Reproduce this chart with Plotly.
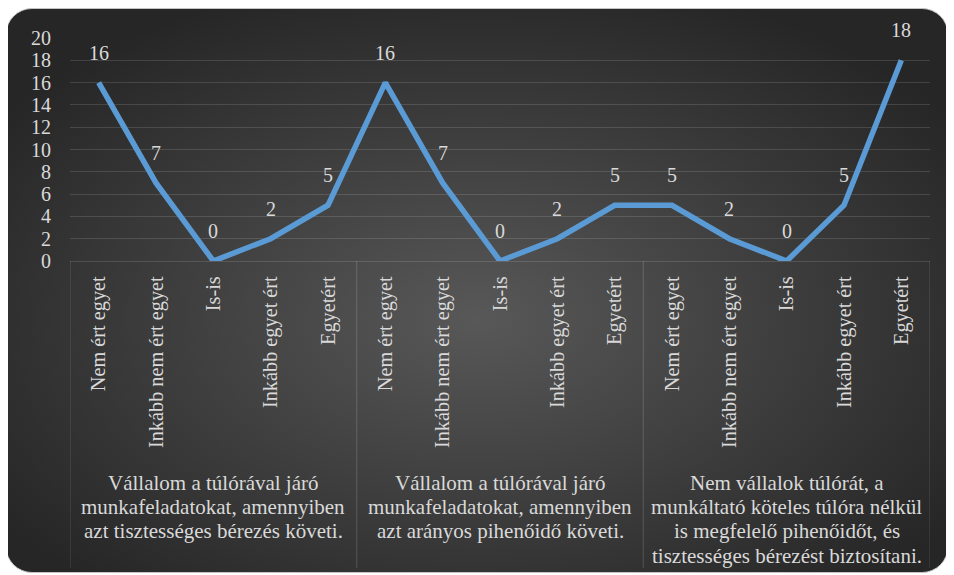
import base64
import plotly.graph_objects as go

# ---- data ----
answers = ["Nem ért egyet", "Inkább nem ért egyet", "Is-is", "Inkább egyet ért", "Egyetért"]
groups = [
    ["Vállalom a túlórával járó", "munkafeladatokat, amennyiben", "azt tisztességes bérezés követi."],
    ["Vállalom a túlórával járó", "munkafeladatokat, amennyiben", "azt arányos pihenőidő követi."],
    ["Nem vállalok túlórát, a", "munkáltató köteles túlóra nélkül",
     "is megfelelő pihenőidőt, és", "tisztességes bérezést biztosítani."],
]
values = [16, 7, 0, 2, 5, 16, 7, 0, 2, 5, 5, 2, 0, 5, 18]
y_ticks = [0, 2, 4, 6, 8, 10, 12, 14, 16, 18, 20]

labels = answers * len(groups)
xs = list(range(len(values)))

W, H = 954, 575
L, T = 62, 30
PW, PH = 860, 223
R, B = W - L - PW, H - T - PH

FONT = "Times New Roman, Liberation Serif, DejaVu Serif, serif"
TXT = "#d9d9d9"
LINEC = "rgba(255,255,255,0.13)"

svg = f'''<svg xmlns="http://www.w3.org/2000/svg" width="{W}" height="{H}" viewBox="0 0 {W} {H}" preserveAspectRatio="none">
<defs><radialGradient id="g" cx="50%" cy="55%" r="62%">
<stop offset="0" stop-color="#585858"/><stop offset="1" stop-color="#262626"/></radialGradient></defs>
<rect x="-2" y="0.5" width="942" height="564" rx="26" ry="26" fill="url(#g)" stroke="#c4c4c4" stroke-width="1"/>
</svg>'''
src = "data:image/svg+xml;base64," + base64.b64encode(svg.encode("utf-8")).decode()

fig = go.Figure()
fig.add_trace(go.Scatter(
    x=xs, y=values, mode="lines",
    line=dict(color="#5b9bd5", width=5.5),
    hoverinfo="skip", showlegend=False,
))

annotations = []
for x, v in zip(xs, values):
    annotations.append(dict(x=x, y=v, xref="x", yref="y", text=str(v), showarrow=False,
                            yshift=30, font=dict(family=FONT, size=20, color=TXT)))
for gi, g in enumerate(groups):
    center = gi * len(answers) + (len(answers) - 1) / 2
    for li, line in enumerate(g):
        yc = 482.5 + 24.4 * li  # offset below the axis (pixels relative to page)
        annotations.append(dict(x=center, y=(261 - yc) / PH, xref="x", yref="paper", text=line,
                                showarrow=False, xanchor="center", yanchor="middle",
                                font=dict(family=FONT, size=21, color=TXT)))

shapes = []
for gi in range(len(groups) + 1):
    xb = gi * len(answers) - 0.5
    shapes.append(dict(type="line", xref="x", yref="paper", x0=xb, x1=xb,
                       y0=0, y1=(261 - 568) / PH, line=dict(color=LINEC, width=1.3), layer="below"))

fig.update_layout(
    width=W, height=H,
    margin=dict(l=L, r=R, t=T, b=B, autoexpand=False),
    paper_bgcolor="white", plot_bgcolor="rgba(0,0,0,0)",
    font=dict(family=FONT, size=20, color=TXT),
    images=[dict(source=src, xref="paper", yref="paper",
                 x=-L / PW, y=1 + T / PH, sizex=W / PW, sizey=H / PH,
                 xanchor="left", yanchor="top", sizing="stretch", layer="below")],
    annotations=annotations,
    shapes=shapes,
    xaxis=dict(range=[-0.5, len(values) - 0.5], tickmode="array", tickvals=xs, ticktext=labels,
               tickangle=-90, ticks="outside", ticklen=6, tickcolor="rgba(0,0,0,0)",
               showgrid=False, zeroline=False, showline=True, linecolor=LINEC, linewidth=1.3,
               tickfont=dict(family=FONT, size=20.3, color=TXT), fixedrange=True),
    yaxis=dict(range=[0, 20], tickmode="array", tickvals=y_ticks,
               ticks="outside", ticklen=14, tickcolor="rgba(0,0,0,0)",
               showgrid=True, gridcolor=LINEC, gridwidth=1.3, zeroline=False, showline=False,
               tickfont=dict(family=FONT, size=20, color=TXT), fixedrange=True),
)

fig.write_html("out.html")
